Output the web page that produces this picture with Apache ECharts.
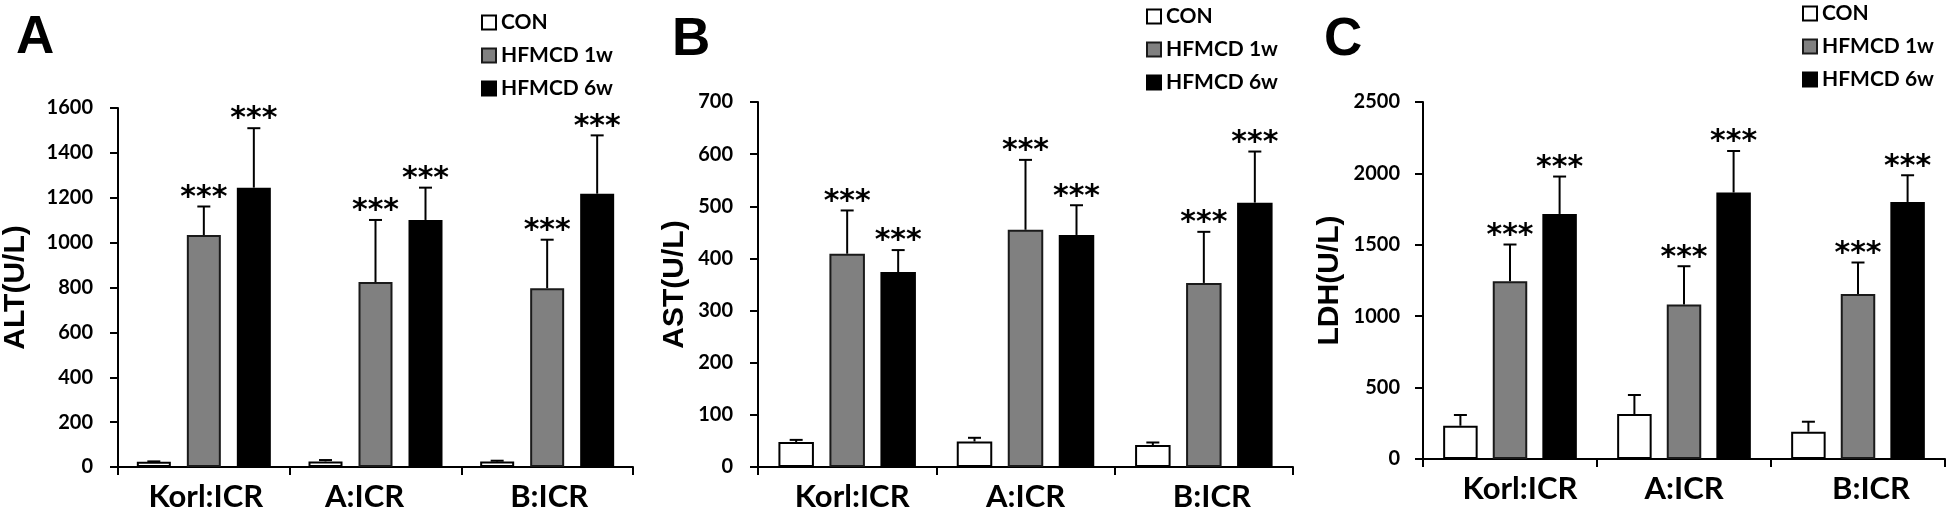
<!DOCTYPE html>
<html>
<head>
<meta charset="utf-8">
<script src="https://cdn.jsdelivr.net/npm/echarts@6/dist/echarts.min.js"></script>
<style>
html,body{margin:0;padding:0;background:#fff;}
#chart{width:1947px;height:512px;}
</style>
</head>
<body>
<div id="chart"></div>
<script>
// ---------- data ----------
const categories = ['Korl:ICR', 'A:ICR', 'B:ICR'];
const groups = ['CON', 'HFMCD 1w', 'HFMCD 6w'];
const significance = ['', '***', '***'];

// ALT (U/L)
const altCON = [23, 25, 24];
const altCONsd = [2, 6, 4];
const alt1w = [1034, 824, 797];
const alt1wSd = [127, 277, 216];
const alt6w = [1245, 1101, 1218];
const alt6wSd = [265, 144, 260];

// AST (U/L)
const astCON = [48, 49, 42];
const astCONsd = [4, 7, 5];
const ast1w = [409, 455, 353];
const ast1wSd = [83, 134, 98];
const ast6w = [374, 445, 507];
const ast6wSd = [42, 57, 98];

// LDH (U/L)
const ldhCON = [233, 315, 191];
const ldhCONsd = [75, 133, 70];
const ldh1w = [1245, 1082, 1155];
const ldh1wSd = [257, 268, 221];
const ldh6w = [1716, 1866, 1800];
const ldh6wSd = [262, 291, 187];

// y-axis ticks
const altTicks = {max: 1600, interval: 200};
const astTicks = {max: 700, interval: 100};
const ldhTicks = {max: 2500, interval: 500};

const panelLetters = ['A', 'B', 'C'];
const axisNames = ['ALT(U/L)', 'AST(U/L)', 'LDH(U/L)'];

// ---------- layout / style ----------
const panels = [
  {means: [altCON, alt1w, alt6w], sds: [altCONsd, alt1wSd, alt6wSd], ticks: altTicks,
   grid: {left: 108, top: 108, width: 525, height: 361}, barWidth: 34, spacing: 50, nameGap: 87, labelMargin: 25,
   labelShift: [2, -11, 2], legend: {left: 476, top: 7}, letter: {x: 16, y: 39}},
  {means: [astCON, ast1w, ast6w], sds: [astCONsd, ast1wSd, ast6wSd], ticks: astTicks,
   grid: {left: 758, top: 102, width: 535, height: 366}, barWidth: 35.5, spacing: 51, nameGap: 68, labelMargin: 25,
   labelShift: [5, 0, 8], legend: {left: 1141, top: 1}, letter: {x: 672, y: 41}},
  {means: [ldhCON, ldh1w, ldh6w], sds: [ldhCONsd, ldh1wSd, ldh6wSd], ticks: ldhTicks,
   grid: {left: 1423, top: 102, width: 522, height: 357}, barWidth: 34.5, spacing: 49.6, nameGap: 78, labelMargin: 23,
   labelShift: [10, 0, 13], legend: {left: 1797, top: -2}, letter: {x: 1324, y: 41}}
];

const fills = ['#ffffff', '#808080', '#000000'];
const borders = ['#000000', '#1a1a1a', '#000000'];
const numFont = 'Lato';
const titleFont = 'Liberation Sans';
const starFont = 'DejaVu Sans';

const grids = [], xAxes = [], yAxes = [], series = [], legends = [], graphics = [];

panels.forEach((p, pi) => {
  grids.push(Object.assign({containLabel: false}, p.grid));
  const xData = categories.map((c, ci) => {
    const s = p.labelShift[ci];
    return {value: c, textStyle: {padding: s >= 0 ? [0, 0, 0, 2 * s] : [0, -2 * s, 0, 0]}};
  });
  xAxes.push({
    type: 'category', gridIndex: pi, data: xData,
    axisLine: {lineStyle: {color: '#000', width: 2}},
    axisTick: {show: true, length: 8, lineStyle: {color: '#000', width: 2}},
    axisLabel: {color: '#000', fontFamily: numFont, fontWeight: 'bold', fontSize: 31, margin: 14},
    splitLine: {show: false}
  });
  yAxes.push({
    type: 'value', gridIndex: pi, min: 0, max: p.ticks.max, interval: p.ticks.interval,
    name: axisNames[pi], nameLocation: 'middle', nameRotate: 90, nameGap: p.nameGap,
    nameTextStyle: {color: '#000', fontFamily: titleFont, fontWeight: 'bold', fontSize: 30},
    axisLine: {show: true, lineStyle: {color: '#000', width: 2}},
    axisTick: {show: true, length: 8, lineStyle: {color: '#000', width: 2}},
    axisLabel: {color: '#000', fontFamily: numFont, fontWeight: 'bold', fontSize: 20, margin: p.labelMargin,
                formatter: function (v) { return String(v); }},
    splitLine: {show: false}
  });
  const gap = ((p.spacing / p.barWidth) - 1) * 100 + '%';
  groups.forEach((g, gi) => {
    series.push({
      type: 'bar', name: g, xAxisIndex: pi, yAxisIndex: pi,
      data: p.means[gi], barWidth: p.barWidth, barGap: gap,
      itemStyle: {color: fills[gi], borderColor: borders[gi], borderWidth: 2},
      emphasis: {disabled: true}, silent: true
    });
  });
  // error bars + significance marks
  const errData = [];
  groups.forEach((g, gi) => {
    categories.forEach((c, ci) => {
      errData.push([ci, gi, p.means[gi][ci], p.sds[gi][ci]]);
    });
  });
  const spacing = p.spacing;
  series.push({
    type: 'custom', xAxisIndex: pi, yAxisIndex: pi, clip: false, z: 5, silent: true,
    data: errData, encode: {x: 0, y: 2},
    renderItem: function (params, api) {
      const ci = api.value(0), gi = api.value(1), m = api.value(2), sd = api.value(3);
      const base = api.coord([ci, m]);
      const top = api.coord([ci, m + sd]);
      const x = base[0] + (gi - 1) * spacing;
      const children = [
        {type: 'line', shape: {x1: x, y1: base[1], x2: x, y2: top[1]}, style: {stroke: '#000', lineWidth: 2}},
        {type: 'line', shape: {x1: x - 6.5, y1: top[1], x2: x + 6.5, y2: top[1]}, style: {stroke: '#000', lineWidth: 2}}
      ];
      const sig = significance[gi];
      if (sig) {
        children.push({type: 'text', x: x, y: top[1] - 8.5,
          style: {text: sig, fill: '#000', fontFamily: starFont, fontWeight: 'bold', fontSize: 30,
                  align: 'center', verticalAlign: 'middle'}});
      }
      return {type: 'group', children: children};
    }
  });
  legends.push({
    left: p.legend.left, top: p.legend.top, orient: 'vertical', icon: 'rect',
    itemWidth: 14, itemHeight: 14, itemGap: 12, selectedMode: false,
    data: groups,
    textStyle: {color: '#000', fontFamily: numFont, fontWeight: 'bold', fontSize: 21}
  });
  graphics.push({
    type: 'text', left: p.letter.x, top: p.letter.y - 27,
    style: {text: panelLetters[pi], fill: '#000', fontFamily: titleFont, fontWeight: 'bold', fontSize: 53}
  });
});

const chart = echarts.init(document.getElementById('chart'), null, {renderer: 'canvas'});
chart.setOption({
  animation: false,
  backgroundColor: '#ffffff',
  grid: grids, xAxis: xAxes, yAxis: yAxes, series: series, legend: legends, graphic: graphics
});
</script>
</body>
</html>
